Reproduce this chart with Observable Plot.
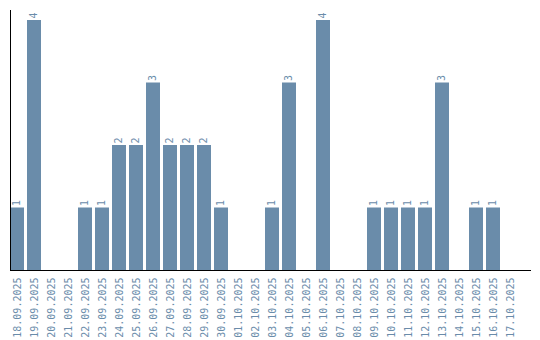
<!DOCTYPE html>
<html>
<head>
<meta charset="utf-8">
<script src="https://cdn.jsdelivr.net/npm/d3@7"></script>
<script src="https://cdn.jsdelivr.net/npm/@observablehq/plot@0.6"></script>
<style>
  html, body { margin: 0; padding: 0; background: #fff; }
  #chart svg { display: block; }
</style>
</head>
<body>
<div id="chart"></div>
<script>
const dates = ["18.09.2025","19.09.2025","20.09.2025","21.09.2025","22.09.2025","23.09.2025","24.09.2025","25.09.2025","26.09.2025","27.09.2025","28.09.2025","29.09.2025","30.09.2025","01.10.2025","02.10.2025","03.10.2025","04.10.2025","05.10.2025","06.10.2025","07.10.2025","08.10.2025","09.10.2025","10.10.2025","11.10.2025","12.10.2025","13.10.2025","14.10.2025","15.10.2025","16.10.2025","17.10.2025"];
const counts = [1,4,0,0,1,1,2,2,3,2,2,2,1,0,0,1,3,0,4,0,0,1,1,1,1,3,0,1,1,0];

const data = dates.map((d, i) => ({date: d, count: counts[i]}));
const barColor = "#6a8caa";
const font = "DejaVu Sans Mono, monospace";

const chart = Plot.plot({
  width: 540,
  height: 340,
  marginTop: 10,
  marginLeft: 10,
  marginRight: 10,
  marginBottom: 70,
  style: {fontFamily: font, fontSize: "10px", background: "#fff"},
  x: {domain: dates, range: [10, 520], paddingInner: 3 / 17, paddingOuter: 0, align: 0, label: null},
  y: {domain: [0, 4], range: [270, 20], axis: null},
  marks: [
    Plot.barY(data.filter(d => d.count > 0), {x: "date", y: "count", fill: barColor}),
    Plot.text(data.filter(d => d.count > 0), {
      x: "date", y: "count", text: d => String(d.count),
      rotate: -90, textAnchor: "start", dx: -1, dy: -2, fill: barColor, fontFamily: font, fontSize: 10
    }),
    Plot.axisX({
      tickSize: 0, tickPadding: 7, tickRotate: -90, fill: barColor, label: null,
      fontFamily: font, fontSize: 10, textAnchor: "end"
    }),
    Plot.frame({anchor: "left", stroke: "#000"}),
    Plot.frame({anchor: "bottom", stroke: "#000"})
  ]
});
document.getElementById("chart").appendChild(chart);
</script>
</body>
</html>
